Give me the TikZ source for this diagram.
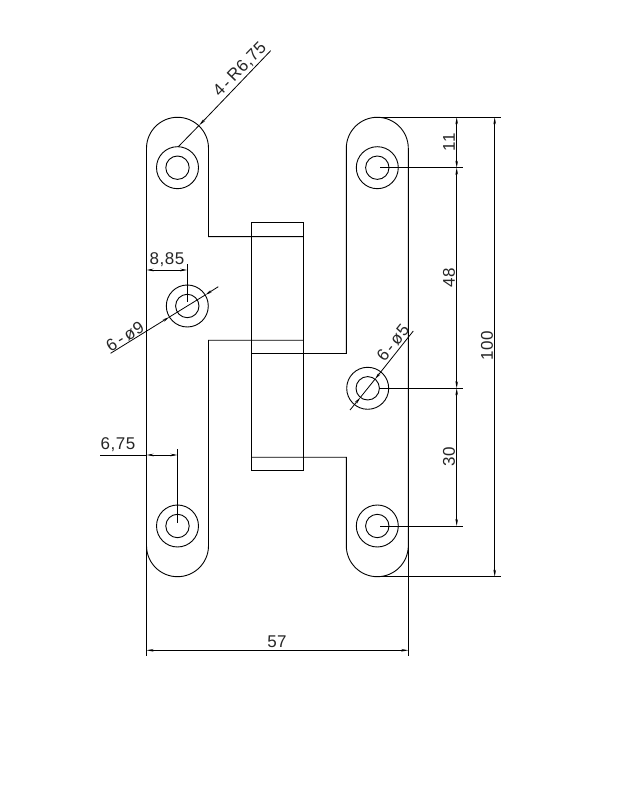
\documentclass[tikz,border=0pt]{standalone}
\usepackage{fontspec}
\setmainfont{Liberation Sans}[LetterSpace=3]
\usetikzlibrary{arrows.meta}
\tikzset{
  >={Stealth[length=7pt,width=2.6pt]},
  part/.style={line width=0.9pt},
  dimline/.style={line width=0.8pt},
  dimtext/.style={font=\fontsize{17}{17}\selectfont, inner sep=0pt, text=black!85},
}

\begin{document}
\begin{tikzpicture}[x=1pt, y=1pt]
  \useasboundingbox (0,0) rectangle (624,806);
  % hole centres
  \coordinate (holeA) at (177.5,638.3);
  \coordinate (holeB) at (187.3,500);
  \coordinate (holeC) at (177.5,280);
  \coordinate (holeD) at (377.3,638.3);
  \coordinate (holeE) at (367.7,417.7);
  \coordinate (holeF) at (377.3,280);
  \foreach \h in {holeA,holeB,holeC,holeD,holeE,holeF} {
    \draw[part] (\h) circle (11.7);
    \draw[part] (\h) circle (21);
  }
  % left plate
  \draw[part] (303,569.3) -- (208.5,569.3) -- (208.5,657.7) arc (0:180:31) -- (146.5,260.3)
    arc (180:360:31) -- (208.5,465.7) -- (303,465.7);
  % right plate
  \draw[part] (251.7,452.5) -- (346.3,452.5) -- (346.3,657.7) arc (180:0:31) -- (408.3,260.3)
    arc (360:180:31) -- (346.3,348.7) -- (251.7,348.7);
  % barrel
  \draw[part] (251.7,583.3) rectangle (303,335.3);
  % overall width
  \draw[dimline] (146.5,260.3) -- (146.5,150.3);
  \draw[dimline] (408.3,260.3) -- (408.3,150.3);
  \draw[dimline, <->] (146.5,155.7) -- (408.3,155.7);
  \node[dimtext] (widthText) at (277,164) {57};
  % edge distances
  \draw[dimline] (177.5,283) -- (177.5,356.7);
  \draw[dimline, <->] (146.5,351) -- (177.5,351);
  \draw[dimline] (146.5,351) -- (100,351);
  \node[dimtext] (edgeText) at (118,361) {6,75};
  \draw[dimline] (187.3,504) -- (187.3,542);
  \draw[dimline, <->] (146.5,536) -- (187.3,536);
  \node[dimtext] (offsetText) at (167,546) {8,85};
  % leaders
  \draw[dimline, ->] (270.7,755.3) -- (199.3,680.8);
  \draw[dimline] (199.3,680.8) -- (178.3,659.3);
  \node[dimtext, rotate=46] (radiusText) at (240,736) {4\,-\,R6,75};
  \draw[dimline, ->] (110.6,452.7) -- (169.4,489);
  \draw[dimline, ->] (218.3,519.3) -- (205.2,511);
  \draw[dimline] (169.4,489) -- (205.2,511);
  \node[dimtext, rotate=31.7] (bigHoleText) at (125,469.5) {6\,-\,ø9};
  \draw[dimline, ->] (413.3,475) -- (375,426.8);
  \draw[dimline, ->] (350,396) -- (360.4,408.6);
  \draw[dimline] (360.4,408.6) -- (375,426.8);
  \node[dimtext, rotate=51.3] (smallHoleText) at (393,463) {6\,-\,ø5};
  % vertical chain
  \draw[dimline] (380,688.7) -- (500.7,688.7);
  \draw[dimline] (380,229.3) -- (501,229.3);
  \draw[dimline] (380,638.3) -- (462.7,638.3);
  \draw[dimline] (379,417.7) -- (462.7,417.7);
  \draw[dimline] (380,280) -- (462.7,280);
  \draw[dimline, <->] (456.7,688.7) -- (456.7,638.3);
  \draw[dimline, <->] (456.7,638.3) -- (456.7,417.7);
  \draw[dimline, <->] (456.7,417.7) -- (456.7,280);
  \draw[dimline, <->] (494.7,688.7) -- (494.7,229.3);
  \node[dimtext, rotate=90] (topText) at (449,664) {11};
  \node[dimtext, rotate=90] (midText) at (449,528) {48};
  \node[dimtext, rotate=90] (lowText) at (449,349) {30};
  \node[dimtext, rotate=90] (totalText) at (487,460) {100};
\end{tikzpicture}
\end{document}
